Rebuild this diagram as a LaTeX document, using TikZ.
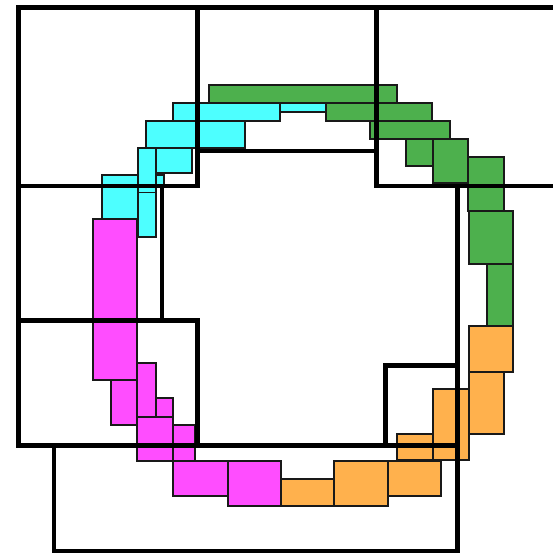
\documentclass[tikz,border=0pt]{standalone}
\usepackage{tikz}
\usepackage{xcolor}

\definecolor{cyanbox}{HTML}{4DFFFF}
\definecolor{greenbox}{HTML}{4DB04D}
\definecolor{orangebox}{HTML}{FFB14D}
\definecolor{magentabox}{HTML}{FF4DFF}

\begin{document}
\begin{tikzpicture}[x=1pt,y=-1pt,
    box/.style={draw=black!90,line width=1.8pt},
    frame/.style={draw=black,line width=4.6pt}]
      \useasboundingbox (0,0) rectangle (553,553);
      \clip (0,0) rectangle (553,553);
      % cyan pieces
      \foreach \xa/\ya/\xb/\yb in {172.7/103.3/280.3/120.7, 280.3/103.3/325.7/112.3,
          146/120.7/244.7/147.7, 155.7/147.7/191.7/172.7, 101.7/174.7/164/186,
          101.7/186/137.7/218.7, 137.7/147.7/155.7/192.5, 137.7/192.5/155.7/236.7}
        \draw [box, fill=cyanbox] (\xa,\ya) rectangle (\xb,\yb);
      % green pieces
      \foreach \xa/\ya/\xb/\yb in {209/85.3/396.7/103.3, 325.7/103.3/432/121,
          370/121/450/139, 405.7/139/432.7/166, 432.7/139/468.3/183.3,
          468.3/156.7/504.3/210.7, 469/210.7/512.7/264, 486.7/264/512.7/326.3}
        \draw [box, fill=greenbox] (\xa,\ya) rectangle (\xb,\yb);
      % orange pieces
      \foreach \xa/\ya/\xb/\yb in {469/326.3/512.7/371.7, 469/371.7/504.3/434,
          433/389/469/460.3, 397.3/434/433/460.3, 388/460.7/441/496,
          334.3/460.7/388/505.7, 280.7/479/334.3/505.7}
        \draw [box, fill=orangebox] (\xa,\ya) rectangle (\xb,\yb);
      % magenta pieces
      \foreach \xa/\ya/\xb/\yb in {93.3/219.3/137.3/380.3, 111.3/380.3/137.3/424.7,
          137.3/362.7/155.7/416.7, 155.7/398.3/173.3/416.7, 137.3/416.7/173.3/460.7,
          173.3/425/195.3/460.7, 173.3/460.7/227.7/496, 227.7/460.7/280.7/505.7}
        \draw [box, fill=magentabox] (\xa,\ya) rectangle (\xb,\yb);
      % outer cells
      \draw [frame] (18.6,7.6) rectangle (197.2,186.2);
      \draw [frame] (197.2,7.6) rectangle (376.2,151);
      \draw [frame] (376.2,7.6) rectangle (580,186.2);
      \draw [frame] (18.6,186.2) rectangle (162,320.4);
      \draw [frame] (18.6,320.4) rectangle (197.2,445.2);
      \draw [frame] (54,445.2) rectangle (457.4,550.8);
      \draw [frame] (385.4,365.2) rectangle (457.4,445.2);
      \draw [frame] (457.4,186.2) rectangle (580,580);
    \end{tikzpicture}
\end{document}
